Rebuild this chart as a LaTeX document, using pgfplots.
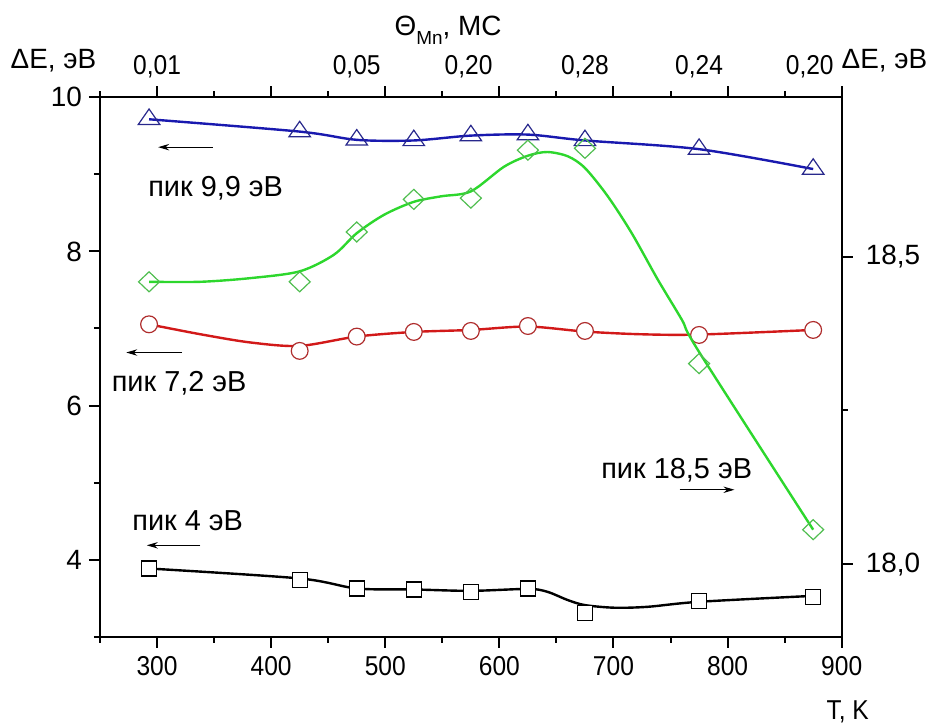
\documentclass[border=0pt]{standalone}
\usepackage{fontspec}
\setmainfont{Liberation Sans}
\newfontfamily\narrowfont[FakeStretch=0.9]{Liberation Sans}
\usepackage{pgfplots}
\pgfplotsset{compat=1.18}
\usetikzlibrary{arrows.meta}

\definecolor{cblue}{RGB}{25,25,175}
\definecolor{cbluem}{RGB}{40,40,140}
\definecolor{cred}{RGB}{210,25,25}
\definecolor{credm}{RGB}{175,45,45}
\definecolor{cgreen}{RGB}{45,215,45}
\definecolor{cgreenm}{RGB}{80,190,80}

\newcommand{\numfont}{\fontsize{14}{16}\selectfont}
\newcommand{\txtfont}{\fontsize{14.5}{16}\selectfont}
\newcommand{\narfont}{\narrowfont\fontsize{13.7}{15}\selectfont}

\tikzset{
  peak/.style={anchor=base west, font=\txtfont, inner sep=0pt},
  arr/.style={line width=0.5bp, -{Stealth[length=5.5bp,width=3.2bp]}},
  toplab/.style={anchor=base, font=\narfont, yshift=11.6bp},
}
\pgfplotsset{
  base/.style={
    scale only axis, width=370.85bp, height=269.7bp,
    at={(0,0)}, anchor=south west,
    xmin=250, xmax=900,
    xtick={300,400,...,900}, minor xtick={250,350,...,850},
    tick align=outside, major tick length=5.5bp, minor tick length=3bp,
    tick style={black, line width=1bp},
    axis line style={black, line width=1bp},
    /pgf/number format/assume math mode=true,
    clip=false,
  },
}

\begin{document}
\begin{tikzpicture}
\useasboundingbox (-50bp,-44.65bp) rectangle (416bp,318.35bp);

% left axis: peaks 4, 7.2, 9.9 eV
\begin{axis}[base,
  axis x line*=bottom, axis y line*=left,
  ymin=3, ymax=10,
  ytick={4,6,8,10}, minor ytick={3,5,7,9},
  x tick label style={font=\narfont, anchor=base, yshift=-13.9bp},
  y tick label style={font=\numfont},
]
% 9.9 eV
\addplot[cblue, line width=1.2bp, smooth] coordinates {
  (293,9.715) (425,9.555) (475,9.448) (525,9.440) (575,9.503)
  (625,9.516) (675,9.440) (775,9.327) (875,9.069)
};
\addplot[only marks, mark=triangle, mark size=6.2bp,
  mark options={draw=cbluem, fill=white, line width=0.6bp, yscale=0.83}] coordinates {
  (293,9.715) (425,9.555) (475,9.448) (525,9.440) (575,9.503)
  (625,9.516) (675,9.440) (775,9.327) (875,9.069)
};
% 7.2 eV
\addplot[cred, line width=1.2bp, smooth] coordinates {
  (293,7.054) (338,6.925) (382,6.818) (425,6.774) (475,6.895)
  (525,6.955) (575,6.981) (625,7.025) (675,6.960) (724,6.925)
  (775,6.921) (875,6.981)
};
\addplot[only marks, mark=*, mark size=4.2bp,
  mark options={draw=credm, fill=white, line width=0.6bp}] coordinates {
  (293,7.054) (425,6.709) (475,6.895) (525,6.955) (575,6.968)
  (625,7.032) (675,6.968) (775,6.916) (875,6.981)
};
% 4 eV
\addplot[black, line width=1.2bp, smooth] coordinates {
  (293,3.885) (425,3.756) (475,3.626) (525,3.613) (575,3.595)
  (625,3.620) (642,3.583) (660,3.475) (675,3.410) (701,3.376)
  (730,3.388) (775,3.453) (875,3.530)
};
\addplot[only marks, mark=square*, mark size=3.75bp,
  mark options={draw=black, fill=white, line width=0.6bp}] coordinates {
  (293,3.885) (425,3.734) (475,3.626) (525,3.613) (575,3.583)
  (625,3.626) (675,3.312) (775,3.462) (875,3.519)
};

\node[peak] at (axis cs:292,8.714) {пик 9,9 эВ};
\draw[arr] (axis cs:349,9.353) -- (axis cs:301,9.353);
\node[peak] at (axis cs:260,6.179) {пик 7,2 эВ};
\draw[arr] (axis cs:322,6.688) -- (axis cs:273,6.688);
\node[peak] at (axis cs:278,4.380) {пик 4 эВ};
\draw[arr] (axis cs:338,4.186) -- (axis cs:291,4.186);
\node[peak] at (axis cs:689,5.049) {пик 18,5 эВ};
\draw[arr] (axis cs:758,4.907) -- (axis cs:806,4.907);

\node[anchor=base, font=\numfont] at ([xshift=-23.25bp, yshift=14.5bp]rel axis cs:0,1) {ΔE, эВ};
\node[anchor=base, font=\narfont] at ([xshift=3bp, yshift=-41.5bp]rel axis cs:1,0) {T, K};
\end{axis}

% right axis: peak 18.5 eV, top axis: coverage
\begin{axis}[base,
  axis x line*=top, axis y line*=right,
  ymin=17.882, ymax=18.759,
  ytick={18,18.5}, minor ytick={18.25},
  yticklabels={{18,0},{18,5}},
  xticklabels={},
  y tick label style={font=\numfont, xshift=3bp},
]
\addplot[cgreen, line width=1.2bp, smooth] coordinates {
  (293,18.459) (338,18.459) (382,18.465) (425,18.476) (455,18.503)
  (475,18.538) (499,18.568) (525,18.589) (549,18.598) (575,18.606)
  (604,18.646) (625,18.664) (642,18.670) (660,18.663) (675,18.644)
  (695,18.598) (716,18.538) (739,18.462) (760,18.397) (775,18.345)
  (875,18.056)
};
\addplot[only marks, mark=diamond, mark size=5bp,
  mark options={draw=cgreenm, fill=white, line width=0.6bp, xscale=1.4}] coordinates {
  (293,18.459) (425,18.459) (475,18.540) (525,18.593) (575,18.595)
  (625,18.673) (675,18.676) (775,18.326) (875,18.056)
};

\node[toplab] at (axis cs:300,18.759) {0,01};
\node[toplab] at (axis cs:475,18.759) {0,05};
\node[toplab] at (axis cs:573,18.759) {0,20};
\node[toplab] at (axis cs:675,18.759) {0,28};
\node[toplab] at (axis cs:775,18.759) {0,24};
\node[toplab] at (axis cs:872,18.759) {0,20};
\node[anchor=base, font=\numfont] at ([yshift=30.7bp]axis cs:555,18.759)
  {Θ\raisebox{-4.5bp}{\fontsize{9.5}{10}\selectfont Mn}, МС};
\node[anchor=base, font=\numfont] at ([xshift=21.4bp, yshift=14.5bp]rel axis cs:1,1) {ΔE, эВ};
\end{axis}
\end{tikzpicture}
\end{document}
